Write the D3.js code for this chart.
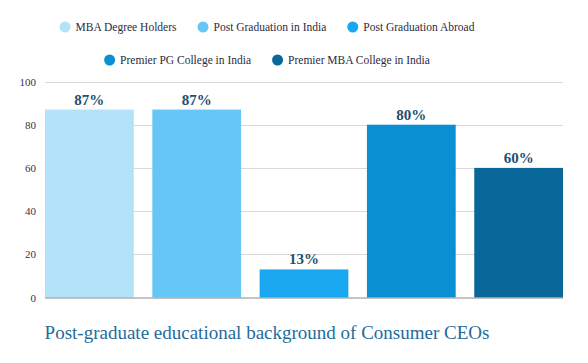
<!DOCTYPE html>
<html>
<head>
<meta charset="utf-8">
<script src="https://cdn.jsdelivr.net/npm/d3@7"></script>
<style>
    body { margin: 0; background: #fff; }
    text { font-family: "Liberation Serif", "DejaVu Serif", serif; }
</style>
</head>
<body>
<script>
var categories = ["MBA Degree Holders", "Post Graduation in India", "Post Graduation Abroad",
                  "Premier PG College in India", "Premier MBA College in India"],
    values = [87, 87, 13, 80, 60],
    colors = ["#b2e3f9", "#66c7f6", "#19a8f0", "#0a8fd3", "#0a6799"],
    yTicks = [0, 20, 40, 60, 80, 100],
    legendRows = [[0, 1, 2], [3, 4]],
    title = "Post-graduate educational background of Consumer CEOs";

(function() {
    var width = 588,
        height = 363,
        plotLeft = 45,
        plotRight = 563,
        plotTop = 81.5,
        plotBottom = 297.5,
        centerX = 267;

    var svg = d3.select("body").append("svg")
                .attr("width", width)
                .attr("height", height);

    var x = d3.scaleBand()
              .domain(categories)
              .range([plotLeft, plotRight])
              .paddingInner(0.173)
              .paddingOuter(0);

    var y = d3.scaleLinear()
              .domain([0, 100])
              .range([plotBottom, plotTop]);

    // grid lines
    svg.selectAll(".grid")
       .data(yTicks.slice(1))
       .enter()
       .append("line")
       .attr("class", "grid")
       .attr("x1", plotLeft)
       .attr("x2", plotRight)
       .attr("y1", function(d) {return Math.round(y(d)) + 0.5; })
       .attr("y2", function(d) {return Math.round(y(d)) + 0.5; })
       .style("stroke", "#d9d9dc")
       .style("stroke-width", 1);

    // y axis labels
    var yAxis = d3.axisLeft(y).tickValues(yTicks).tickSize(0).tickPadding(9);
    var yg = svg.append("g")
                .attr("transform", "translate(" + plotLeft + ",0)")
                .call(yAxis);
    yg.select(".domain").remove();
    yg.selectAll("text")
      .style("font-family", "\"Liberation Serif\", serif")
      .style("font-size", "11px")
      .style("fill", "#333344");

    // bars
    svg.selectAll(".bar")
       .data(values)
       .enter()
       .append("rect")
       .attr("class", "bar")
       .attr("x", function(d, i) {return x(categories[i]); })
       .attr("width", x.bandwidth())
       .attr("y", function(d) {return y(d); })
       .attr("height", function(d) {return y(0) - y(d); })
       .style("fill", function(d, i) {return colors[i]; });

    // baseline
    svg.append("line")
       .attr("x1", plotLeft)
       .attr("x2", plotRight)
       .attr("y1", y(0) + 0.5)
       .attr("y2", y(0) + 0.5)
       .style("stroke", "#8a8a8a")
       .style("stroke-width", 1);

    // value labels
    svg.selectAll(".valueLabel")
       .data(values)
       .enter()
       .append("text")
       .attr("class", "valueLabel")
       .attr("x", function(d, i) {return x(categories[i]) + x.bandwidth() / 2; })
       .attr("y", function(d) {return y(d) - 5; })
       .attr("text-anchor", "middle")
       .style("font-size", "15px")
       .style("font-weight", "bold")
       .style("fill", "#1e4f70")
       .text(function(d) {return d + "%"; });

    // legend
    var legendR = 5.5, legendTextGap = 5, itemGap = 21, rowY = [27, 60];
    legendRows.forEach(function(row, r) {
        var g = svg.append("g").attr("class", "legendRow");
        var items = g.selectAll(".legendItem")
                     .data(row)
                     .enter()
                     .append("g")
                     .attr("class", "legendItem");
        items.append("circle")
             .attr("cx", legendR)
             .attr("cy", 0)
             .attr("r", legendR)
             .style("fill", function(d) {return colors[d]; });
        items.append("text")
             .attr("x", legendR * 2 + legendTextGap)
             .attr("dy", "0.35em")
             .style("font-size", "11.5px")
             .style("fill", "#2b2b40")
             .text(function(d) {return categories[d]; });
        var offset = 0;
        items.each(function() {
            var w = legendR * 2 + legendTextGap + d3.select(this).select("text").node().getComputedTextLength();
            d3.select(this).attr("transform", "translate(" + offset + ",0)");
            offset += w + itemGap;
        });
        offset -= itemGap;
        g.attr("transform", "translate(" + (centerX - offset / 2) + "," + rowY[r] + ")");
    });

    // title
    svg.append("text")
       .attr("x", centerX)
       .attr("y", 339)
       .attr("text-anchor", "middle")
       .style("font-size", "19px")
       .style("fill", "#1f6c9c")
       .text(title);
})();
</script>
</body>
</html>
